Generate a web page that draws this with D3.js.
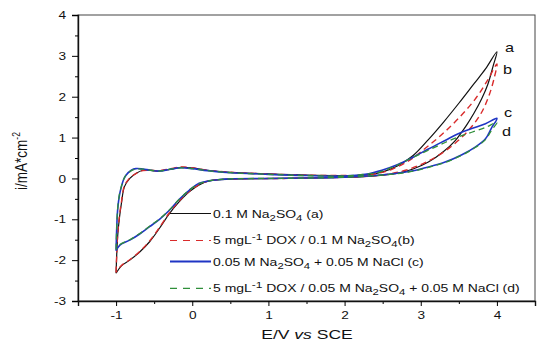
<!DOCTYPE html>
<html>
<head>
<meta charset="utf-8">
<script src="https://cdn.jsdelivr.net/npm/d3@7/dist/d3.min.js"></script>
<style>
  body { margin: 0; background: #fff; }
  text { font-family: "Liberation Sans", Arial, sans-serif; fill: #111; }
</style>
</head>
<body>
<svg width="550" height="351"></svg>
<script>

// Cyclic voltammograms, each loop goes -1 V -> 4 V (upper branch) and back (lower branch)
var potA = [-1, -0.98, -0.955, -0.93, -0.89, -0.82, -0.74, -0.65, -0.55, -0.45, -0.3, -0.15, 0, 0.2, 0.5, 1, 1.5, 2, 2.3, 2.5, 2.7, 2.9, 3.1, 3.3, 3.5, 3.7, 3.85, 4.0,
            3.95, 3.88, 3.8, 3.7, 3.6, 3.45, 3.3, 3.1, 2.9, 2.7, 2.5, 2.2, 1.8, 1.2, 0.6, 0.35, 0.22, 0.09, -0.04, -0.17, -0.3, -0.43, -0.56, -0.69, -0.82, -0.93, -1];
var curA = [-2.32, -1.43, -0.95, -0.61, -0.2, 0.0, 0.12, 0.2, 0.2, 0.18, 0.22, 0.27, 0.26, 0.2, 0.15, 0.11, 0.08, 0.07, 0.09, 0.16, 0.31, 0.56, 0.95, 1.38, 1.84, 2.32, 2.68, 3.1,
            2.75, 2.3, 1.95, 1.6, 1.3, 0.92, 0.66, 0.4, 0.23, 0.13, 0.08, 0.04, 0.02, 0.0, -0.01, -0.03, -0.06, -0.16, -0.33, -0.57, -0.86, -1.22, -1.55, -1.8, -2.0, -2.14, -2.32];

var potB = [-1, -0.98, -0.955, -0.93, -0.89, -0.82, -0.74, -0.65, -0.55, -0.45, -0.3, -0.15, 0, 0.2, 0.5, 1, 1.5, 2, 2.3, 2.45, 2.62, 2.84, 3.06, 3.28, 3.5, 3.71, 3.87, 4.0,
            3.97, 3.9, 3.8, 3.67, 3.5, 3.28, 3.05, 2.8, 2.55, 2.2, 1.8, 1.2, 0.6, 0.35, 0.22, 0.09, -0.04, -0.17, -0.3, -0.43, -0.56, -0.69, -0.82, -0.93, -1];
var curB = [-2.3, -1.4, -0.9, -0.58, -0.18, 0.01, 0.12, 0.19, 0.2, 0.19, 0.23, 0.28, 0.26, 0.2, 0.15, 0.11, 0.08, 0.07, 0.08, 0.13, 0.22, 0.43, 0.74, 1.08, 1.48, 1.93, 2.38, 2.8,
            2.5, 2.05, 1.62, 1.27, 0.94, 0.62, 0.38, 0.2, 0.1, 0.04, 0.02, 0.0, -0.01, -0.03, -0.06, -0.15, -0.32, -0.55, -0.84, -1.2, -1.53, -1.79, -1.99, -2.13, -2.3];

var potC = [-1, -0.98, -0.955, -0.93, -0.9, -0.87, -0.8, -0.74, -0.65, -0.55, -0.43, -0.3, -0.15, 0, 0.2, 0.5, 1, 1.5, 2, 2.27, 2.49, 2.7, 2.9, 3.1, 3.32, 3.5, 3.67, 3.85, 4.0,
            3.93, 3.85, 3.71, 3.54, 3.32, 3.1, 2.88, 2.67, 2.4, 2.0, 1.5, 1.0, 0.5, 0.35, 0.22, 0.09, -0.04, -0.17, -0.3, -0.43, -0.56, -0.69, -0.82, -0.95, -1];
var curC = [-1.77, -0.78, -0.4, -0.2, -0.02, 0.08, 0.2, 0.24, 0.23, 0.2, 0.18, 0.22, 0.26, 0.24, 0.19, 0.14, 0.1, 0.07, 0.06, 0.1, 0.2, 0.34, 0.52, 0.72, 0.93, 1.1, 1.22, 1.34, 1.47,
            1.24, 0.97, 0.76, 0.58, 0.4, 0.28, 0.18, 0.12, 0.07, 0.03, 0.01, 0.0, -0.01, -0.03, -0.06, -0.12, -0.29, -0.51, -0.78, -1.0, -1.18, -1.36, -1.51, -1.63, -1.77];

var potD = [-1, -0.98, -0.955, -0.93, -0.9, -0.87, -0.8, -0.74, -0.65, -0.55, -0.43, -0.3, -0.15, 0, 0.2, 0.5, 1, 1.5, 2, 2.27, 2.45, 2.67, 2.88, 3.1, 3.32, 3.5, 3.67, 3.85, 4.0,
            3.93, 3.85, 3.71, 3.54, 3.32, 3.1, 2.88, 2.67, 2.4, 2.0, 1.5, 1.0, 0.5, 0.35, 0.22, 0.09, -0.04, -0.17, -0.3, -0.43, -0.56, -0.69, -0.82, -0.95, -1];
var curD = [-1.74, -0.75, -0.38, -0.19, -0.02, 0.08, 0.19, 0.23, 0.23, 0.2, 0.18, 0.22, 0.26, 0.24, 0.19, 0.14, 0.1, 0.07, 0.06, 0.1, 0.15, 0.31, 0.5, 0.69, 0.88, 1.02, 1.13, 1.25, 1.37,
            1.18, 0.95, 0.75, 0.57, 0.39, 0.27, 0.17, 0.11, 0.07, 0.03, 0.01, 0.0, -0.01, -0.03, -0.06, -0.13, -0.29, -0.51, -0.77, -0.99, -1.17, -1.35, -1.5, -1.62, -1.74];

var seriesKeys = ["a", "b", "c", "d"];
var legendLabels = [
  "0.1 M Na_2SO_4 (a)",
  "5 mgL^-1 DOX / 0.1 M Na_2SO_4(b)",
  "0.05 M Na_2SO_4 + 0.05 M NaCl (c)",
  "5 mgL^-1 DOX / 0.05 M Na_2SO_4 + 0.05 M NaCl (d)"
];
var xTicks = [-1, 0, 1, 2, 3, 4];
var xMinor = [-0.5, 0.5, 1.5, 2.5, 3.5];
var yTicks = [-3, -2, -1, 0, 1, 2, 3, 4];
var yMinor = [-2.5, -1.5, -0.5, 0.5, 1.5, 2.5, 3.5];

var series = [
  {key: "a", pot: potA, cur: curA, color: "#111111", width: 1.2, dash: null},
  {key: "b", pot: potB, cur: curB, color: "#d92b2b", width: 1.4, dash: "6,4"},
  {key: "c", pot: potC, cur: curC, color: "#1f35c4", width: 1.6, dash: null},
  {key: "d", pot: potD, cur: curD, color: "#2f8f3a", width: 1.3, dash: "6,4"}
];

var svg = d3.select("svg");
var sx = 1.3; // text in the figure is drawn horizontally stretched

var x = d3.scaleLinear().domain([-1.5, 4.5]).range([78, 535]);
var y = d3.scaleLinear().domain([-3, 4]).range([301, 15]);

// frame
svg.append("rect")
  .attr("x", 78).attr("y", 15)
  .attr("width", 535 - 78).attr("height", 301 - 15)
  .attr("fill", "none").attr("stroke", "#444").attr("stroke-width", 1);

// minor ticks
svg.append("g")
  .attr("transform", "translate(0,301)")
  .call(d3.axisBottom(x).tickValues(xMinor).tickSize(3).tickFormat(""))
  .call(g => g.select(".domain").remove());
svg.append("g")
  .attr("transform", "translate(78,0)")
  .call(d3.axisLeft(y).tickValues(yMinor).tickSize(3).tickFormat(""))
  .call(g => g.select(".domain").remove());

// X axis
var xAxis = svg.append("g")
  .attr("transform", "translate(0,301)")
  .call(d3.axisBottom(x).tickValues(xTicks).tickSize(5).tickFormat(d => String(d)));
xAxis.select(".domain").attr("stroke", "#111").attr("stroke-width", 1.4);
xAxis.selectAll("text")
  .attr("y", 0).attr("dy", 0)
  .attr("transform", "translate(0,18) scale(" + sx + ",1)")
  .style("font-size", "10.5px")
  .style("font-family", "'Liberation Sans', Arial, sans-serif")
  .attr("fill", "#1a1a1a");

// Y axis
var yAxis = svg.append("g")
  .attr("transform", "translate(78,0)")
  .call(d3.axisLeft(y).tickValues(yTicks).tickSize(6).tickFormat(d => String(d)));
yAxis.select(".domain").attr("stroke", "#111").attr("stroke-width", 1.4);
yAxis.selectAll("text")
  .attr("x", 0).attr("dy", "0.35em")
  .attr("transform", "translate(-12,0) scale(" + sx + ",1)")
  .style("font-size", "10.5px")
  .style("font-family", "'Liberation Sans', Arial, sans-serif")
  .attr("fill", "#1a1a1a");

// axis titles
var xTitle = svg.append("text")
  .attr("text-anchor", "middle")
  .attr("transform", "translate(307,339) scale(" + sx + ",1)")
  .style("font-size", "13.5px");
xTitle.append("tspan").text("E/V ");
xTitle.append("tspan").style("font-style", "italic").text("vs");
xTitle.append("tspan").text(" SCE");

var yTitle = svg.append("text")
  .attr("text-anchor", "middle")
  .attr("transform", "translate(27,161) rotate(-90) scale(1,1.2)")
  .style("font-size", "13.5px");
yTitle.append("tspan").text("i/mA*cm");
yTitle.append("tspan").attr("dy", -6).style("font-size", "8.5px").text("-2");

// curves
var line = d3.line()
  .x(d => x(d[0]))
  .y(d => y(d[1]))
  .curve(d3.curveCatmullRom.alpha(0.5));

svg.selectAll(".cv")
  .data(series)
  .enter()
  .append("path")
  .attr("class", "cv")
  .attr("d", s => line(s.pot.map((p, i) => [p, s.cur[i]])))
  .attr("fill", "none")
  .attr("stroke", s => s.color)
  .attr("stroke-width", s => s.width)
  .attr("stroke-dasharray", s => s.dash);

// letters at the end of each loop
var letterPos = [[505, 52], [503, 74], [504, 117], [502, 136]];
svg.selectAll(".endlab")
  .data(seriesKeys)
  .enter()
  .append("text")
  .attr("class", "endlab")
  .attr("transform", (d, i) => "translate(" + letterPos[i][0] + "," + letterPos[i][1] + ") scale(1.25,1)")
  .style("font-size", "13px")
  .text(d => d);

// legend: "_" marks a subscript, "^" a superscript
function richText(sel, str) {
  var parts = str.split(/([_^]-?\d+)/).filter(p => p);
  var back = 0;
  parts.forEach(function(p) {
    var shift = 0, size = null, txt = p;
    if (p[0] === "_") { shift = 3; size = "8.5px"; txt = p.slice(1); }
    else if (p[0] === "^") { shift = -4.5; size = "9px"; txt = p.slice(1); }
    var ts = sel.append("tspan").attr("dy", back + shift).text(txt);
    if (size) ts.style("font-size", size);
    back = -shift;
  });
}

var legLineY = [213.5, 240.5, 261.5, 288.3];
var legTextY = [218, 244.3, 265.7, 292.3];
var legend = svg.append("g");
series.forEach(function(s, i) {
  legend.append("line")
    .attr("x1", 170).attr("x2", 211)
    .attr("y1", legLineY[i]).attr("y2", legLineY[i])
    .attr("stroke", s.color)
    .attr("stroke-width", s.key === "c" ? 1.8 : 1.2)
    .attr("stroke-dasharray", s.dash ? "7,6" : null);
  var t = legend.append("text")
    .attr("transform", "translate(213," + legTextY[i] + ") scale(1.33,1)")
    .style("font-size", "10.5px");
  richText(t, legendLabels[i]);
});

</script>
</body>
</html>
